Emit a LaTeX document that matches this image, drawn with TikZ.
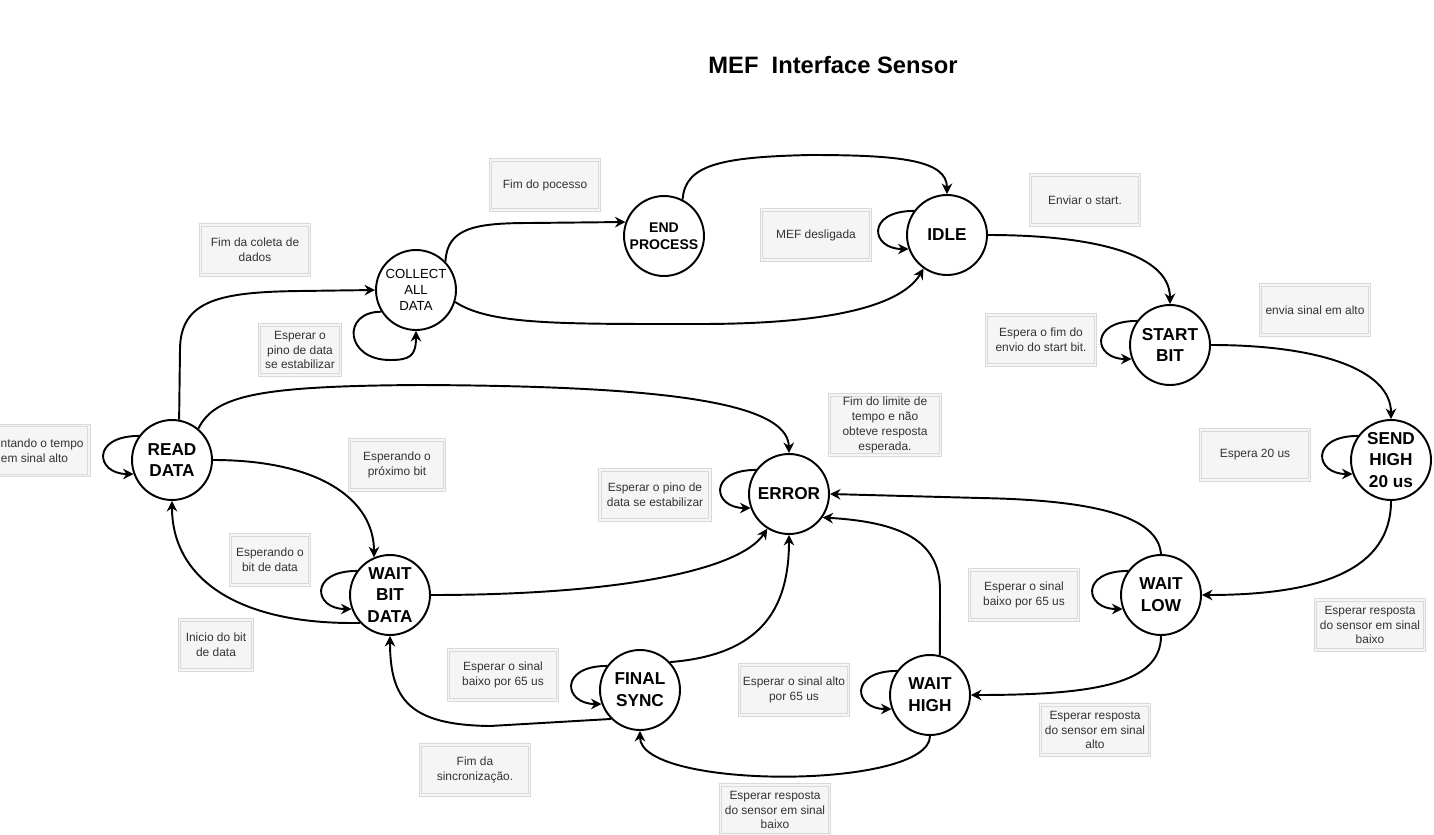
\documentclass[tikz,border=0pt]{standalone}
\usepackage{fontspec}
\setmainfont{Liberation Sans}
\usetikzlibrary{arrows.meta}
\definecolor{notefill}{HTML}{F5F5F5}
\definecolor{noteline}{HTML}{D9D9D9}
\definecolor{notetext}{HTML}{333333}

\begin{document}
\begin{tikzpicture}[x=0.02cm, y=-0.02cm,
  state/.style={circle, draw, line width=1.1pt, minimum size=1.6cm, inner sep=0pt,
    align=center, font=\fontsize{9.8}{12.4}\selectfont\bfseries},
  note/.style={rectangle, draw=noteline, double=notefill, double distance=0.8pt,
    line width=0.5pt, fill=notefill, minimum width=2.18cm, minimum height=1cm,
    inner sep=1pt, align=center, text=notetext, font=\fontsize{6.8}{8.5}\selectfont},
  trans/.style={line width=1.1pt, -{Stealth[length=6pt, width=6pt, inset=2pt]}}]
  \useasboundingbox (0,0) rectangle (1434,835);

  % title
  \node[font=\fontsize{13.5}{15}\selectfont\bfseries] (title) at (833,65) {MEF\ \ Interface Sensor};

  % states
  \node[state] (read) at (172,460) {READ\\DATA};
  \node[state, font=\fontsize{7.5}{8.9}\selectfont] (collect) at (416,290) {COLLECT\\ALL\\DATA};
  \node[state, font=\fontsize{8}{9.6}\selectfont\bfseries] (endp) at (664,236) {END\\PROCESS};
  \node[state] (idle) at (947,235) {IDLE};
  \node[state] (startb) at (1170,345) {START\\BIT};
  \node[state] (sendh) at (1391,460) {SEND\\HIGH\\20 us};
  \node[state] (error) at (789,494) {ERROR};
  \node[state] (waitbit) at (390,595) {WAIT\\BIT\\DATA};
  \node[state] (waitlow) at (1161,595) {WAIT\\LOW};
  \node[state] (final) at (640,690) {FINAL\\SYNC};
  \node[state] (waithigh) at (930,695) {WAIT\\HIGH};

  % notes
  \node[note] (nfimcoleta) at (255,250) {Fim da coleta de\\dados};
  \node[note, minimum width=1.62cm] (nestab1) at (300,350) {Esperar o\\pino de data\\se estabilizar};
  \node[note] (ncontando) at (34.5,450.5) {Contando o tempo\\em sinal alto};
  \node[note, minimum width=1.9cm] (nproxbit) at (397,465) {Esperando o\\próximo bit};
  \node[note] (nfimproc) at (545,185) {Fim do pocesso};
  \node[note] (nmefoff) at (816,235) {MEF desligada};
  \node[note, minimum width=2.22cm, minimum height=1.2cm] (nlimite) at (885,425) {Fim do limite de\\tempo e não\\obteve resposta\\esperada.};
  \node[note, minimum width=2.2cm] (nestab2) at (655,495) {Esperar o pino de\\data se estabilizar};
  \node[note] (nenviar) at (1085,200) {Enviar o start.};
  \node[note] (nfimenvio) at (1041,340) {Espera o fim do\\envio do start bit.};
  \node[note] (nenviaalto) at (1315,310) {envia sinal em alto};
  \node[note] (nesp20) at (1255,455) {Espera 20 us};
  \node[note, minimum width=1.58cm] (nbitdata) at (270,560) {Esperando o\\bit de data};
  \node[note, minimum width=1.46cm] (ninicio) at (216,645) {Inicio do bit\\de data};
  \node[note] (nbaixo1) at (503,675) {Esperar o sinal\\baixo por 65 us};
  \node[note] (nfimsync) at (475,770) {Fim da\\sincronização.};
  \node[note] (nalto65) at (794,690) {Esperar o sinal alto\\por 65 us};
  \node[note] (nrespbaixo1) at (775,810) {Esperar resposta\\do sensor em sinal\\baixo};
  \node[note] (nbaixo2) at (1024,595) {Esperar o sinal\\baixo por 65 us};
  \node[note] (nrespbaixo2) at (1370,625) {Esperar resposta\\do sensor em sinal\\baixo};
  \node[note] (nrespalto) at (1095,730) {Esperar resposta\\do sensor em sinal\\alto};

  % self loops
  \foreach \s in {read,waitbit,final,waithigh,waitlow,sendh,startb,idle,error}
    \draw[trans] (\s.144) .. controls +(-48,0) and +(-38,0) .. (\s.200);
  \draw[trans] (collect.212) .. controls +(-40,0) and +(-45,0) .. (390,360)
    .. controls +(20,0) and +(0,25) .. (collect.270);

  % transitions
  \draw[trans] (read.80) -- (180,350) .. controls (180,300) and (220,292) .. (300,291) -- (collect.west);
  \draw[trans] (read.50) .. controls (215,395) and (260,386) .. (420,385)
    .. controls (650,386) and (788,400) .. (error.north);
  \draw[trans] (read.east) .. controls (320,460) and (374,500) .. (waitbit.113);
  \draw[trans] (collect.44) .. controls (447,228) and (475,223) .. (530,223) -- (endp.160);
  \draw[trans] (collect.-17) .. controls (490,325) and (560,324) .. (700,324)
    .. controls (850,324) and (905,300) .. (idle.235);
  \draw[trans] (endp.63) .. controls (685,165) and (720,157) .. (810,155)
    .. controls (900,155) and (947,160) .. (idle.north);
  \draw[trans] (idle.east) .. controls (1080,235) and (1170,250) .. (startb.north);
  \draw[trans] (startb.east) .. controls (1320,345) and (1391,370) .. (sendh.north);
  \draw[trans] (sendh.south) .. controls (1391,570) and (1320,595) .. (waitlow.east);
  \draw[trans] (waitlow.north) .. controls (1158,515) and (1090,500) .. (980,498) -- (error.east);
  \draw[trans] (waitlow.south) .. controls (1161,685) and (1090,695) .. (waithigh.east);
  \draw[trans] (waithigh.76) -- (940,590) .. controls (940,540) and (900,522) .. (error.-35);
  \draw[trans] (waithigh.south) .. controls (930,790) and (640,790) .. (final.south);
  \draw[trans] (final.43) .. controls (760,655) and (789,610) .. (error.south);
  \draw[trans] (final.225) -- (490,726) .. controls (410,725) and (390,700) .. (waitbit.south);
  \draw[trans] (waitbit.east) .. controls (620,595) and (740,570) .. (error.238);
  \draw[trans] (waitbit.223) .. controls (240,625) and (172,580) .. (read.south);
\end{tikzpicture}
\end{document}
